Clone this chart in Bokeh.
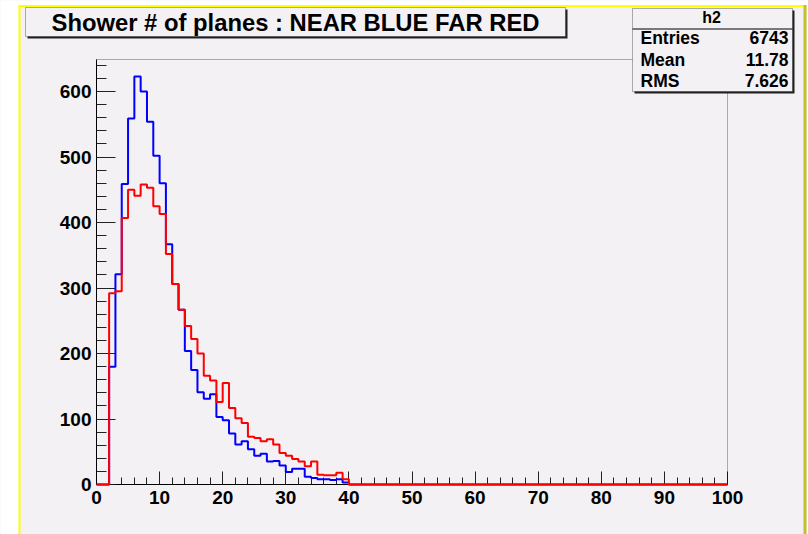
from bokeh.plotting import figure
from bokeh.models import Range1d, FixedTicker, BoxAnnotation, Label
from bokeh.embed import file_html
from bokeh.resources import INLINE

# ---------------- data ----------------
bin_edges = list(range(0, 101))           # 100 bins of width 1, 0..100
near_blue = [0, 0, 180, 321, 459, 559, 623, 600, 554, 502,
             460, 367, 306, 267, 204, 175, 141, 131, 138, 103,
             98, 78, 61, 66, 54, 44, 47, 35, 36, 29,
             19, 24, 24, 12, 10, 8, 8, 7, 8, 3] + [0] * 60
far_red = [0, 0, 292, 295, 407, 450, 441, 458, 453, 425,
           413, 352, 306, 267, 242, 222, 200, 166, 159, 126,
           155, 117, 101, 94, 73, 71, 66, 69, 61, 48,
           44, 39, 35, 28, 35, 15, 14, 14, 18, 8] + [0] * 60

title_text = "Shower # of planes : NEAR BLUE FAR RED"
stats_name = "h2"
stats_labels = ["Entries", "Mean", "RMS"]
stats_values = ["6743", "11.78", "7.626"]

x_ticks = list(range(0, 101, 10))
x_minor = list(range(0, 101, 2))
y_ticks = list(range(0, 601, 100))
y_minor = list(range(0, 641, 20))
x_min, x_max = 0, 100
y_min, y_max = 0, 649

# ---------------- layout constants (canvas pixels) ----------------
W, H = 808, 534
FL, FR, FT, FB = 96, 727, 59, 484          # histogram frame in the canvas
BG = "#F4F1F4"
FONT = "Liberation Sans"

# the Bokeh frame covers the whole canvas; ranges chosen so that the
# histogram region [0,100]x[0,649] lands on the ROOT-style frame
xpu = (FR - FL) / (x_max - x_min)
ypu = (FB - FT) / (y_max - y_min)
x_range = Range1d(x_min - FL / xpu, x_min + (W - FL) / xpu)
y_range = Range1d(y_min - (H - FB) / ypu, y_min + FB / ypu)

p = figure(width=W, height=H, x_range=x_range, y_range=y_range,
           output_backend="svg", toolbar_location=None, title=None,
           min_border_left=0, min_border_right=0,
           min_border_top=0, min_border_bottom=0,
           background_fill_color=BG, border_fill_color=BG,
           outline_line_color=None)
p.grid.visible = False

xa = p.xaxis[0]
xa.ticker = FixedTicker(ticks=x_ticks, minor_ticks=x_minor)
xa.fixed_location = y_min
xa.bounds = (x_min, x_max)
xa.major_tick_in, xa.major_tick_out = 13, 0
xa.minor_tick_in, xa.minor_tick_out = 7, 0
xa.major_label_standoff = 6

ya = p.yaxis[0]
ya.ticker = FixedTicker(ticks=y_ticks, minor_ticks=y_minor)
ya.fixed_location = x_min
ya.bounds = (y_min, y_max)
ya.major_tick_in, ya.major_tick_out = 19, 0
ya.minor_tick_in, ya.minor_tick_out = 10, 0
ya.major_label_standoff = 5

for ax in (xa, ya):
    ax.axis_line_color = "black"
    ax.major_tick_line_color = "#222222"
    ax.minor_tick_line_color = "#222222"
    ax.major_label_text_font = FONT
    ax.major_label_text_font_style = "bold"
    ax.major_label_text_font_size = "19px"
    ax.major_label_text_color = "black"

# frame box (top and right sides)
p.add_layout(BoxAnnotation(left=x_min, right=x_max, bottom=y_min, top=y_max,
                           fill_color=None, fill_alpha=0,
                           line_color="black", line_width=1))

# histograms (drawn above the axis line, as ROOT does)
rb = p.step(bin_edges, near_blue + [near_blue[-1]], mode="after",
            line_color="#0000FF", line_width=2)
rr = p.step(bin_edges, far_red + [far_red[-1]], mode="after",
            line_color="#FF0000", line_width=2)
rb.level = "overlay"
rr.level = "overlay"


def sbox(x0, y0, x1, y1, **kw):
    """box in canvas pixels (y downwards)"""
    b = BoxAnnotation(left=x0, right=x1, top=H - y0, bottom=H - y1,
                      left_units="screen", right_units="screen",
                      top_units="screen", bottom_units="screen", **kw)
    p.add_layout(b)


def slabel(x, y, text, size, align="left"):
    p.add_layout(Label(x=x, y=H - y, x_units="screen", y_units="screen",
                       text=text, text_align=align, text_baseline="middle",
                       text_font=FONT, text_font_style="bold",
                       text_font_size=size, text_color="black"))


# outer white margins and yellow pad border
sbox(0, 0, 18, H, fill_color="white", fill_alpha=1, line_color=None)
sbox(0, 0, W, 4.5, fill_color="white", fill_alpha=1, line_color=None)
sbox(806, 0, W, H, fill_color="white", fill_alpha=1, line_color=None)
sbox(18, 4.5, 20, H, fill_color="#FFFF00", fill_alpha=1, line_color=None)
sbox(18, 4.5, 806, 6.5, fill_color="#FFFF00", fill_alpha=1, line_color=None)
sbox(803, 4.5, 806, H, fill_color="#C0C030", fill_alpha=1, line_color=None)

# title box with shadow
sbox(27, 9, 567, 38, fill_color="#202020", fill_alpha=1, line_color=None)
sbox(25, 7, 565, 36, fill_color=BG, fill_alpha=1, line_color="black", line_width=1)
slabel(295, 22, title_text, "23.8px", align="center")

# stats box with shadow
sbox(634, 10, 794, 93, fill_color="#202020", fill_alpha=1, line_color=None)
sbox(632, 8, 792, 91, fill_color=BG, fill_alpha=1, line_color="black", line_width=1)
sbox(632, 28, 792, 29, fill_color="black", fill_alpha=1, line_color=None)
slabel(711, 17, stats_name, "16px", align="center")
row_y = [37, 59, 80]
for yy, lab, val in zip(row_y, stats_labels, stats_values):
    slabel(640, yy, lab, "17.5px", align="left")
    slabel(788, yy, val, "17.5px", align="right")

open("out.html", "w").write(file_html(p, INLINE))
